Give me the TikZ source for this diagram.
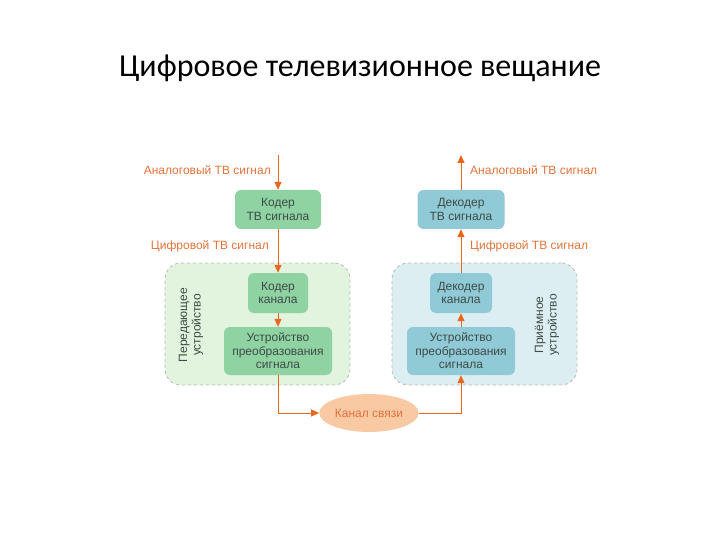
\documentclass[tikz,border=0pt]{standalone}
\usepackage{fontspec}
\setmainfont{Liberation Sans}
\newfontfamily\titlefont{Carlito}
\usetikzlibrary{arrows.meta,positioning,shapes.geometric}
\definecolor{sigorange}{HTML}{E8671C}
\definecolor{labelorange}{HTML}{E2733A}
\definecolor{greenbox}{HTML}{8FD3A2}
\definecolor{greenbg}{HTML}{E2F3DE}
\definecolor{bluebox}{HTML}{90CAD6}
\definecolor{bluebg}{HTML}{DDEEF3}
\definecolor{chanfill}{HTML}{F9C9A4}
\definecolor{boxtext}{HTML}{3E4B46}

\begin{document}
\begin{tikzpicture}[
  x=1pt,y=-1pt,
  block/.style={rounded corners=6pt,align=center,text=boxtext,inner sep=2pt,
    font=\fontsize{12}{13.5}\selectfont},
  greenblock/.style={block,fill=greenbox},
  blueblock/.style={block,fill=bluebox},
  device/.style={draw=gray!55,dashed,rounded corners=16pt,line width=0.8pt,
    minimum width=185pt,minimum height=122pt},
  devlabel/.style={rotate=90,align=center,text=boxtext,font=\fontsize{12}{13.5}\selectfont},
  link/.style={draw=sigorange,line width=1pt,-{Triangle[length=8pt,width=7pt]}},
  siglabel/.style={text=labelorange,font=\fontsize{12}{14}\selectfont,inner sep=0pt}
]
  \useasboundingbox (0,0) rectangle (720,540);
  \node[font=\titlefont\fontsize{32}{36}\selectfont] (title) at (360,68) {Цифровое телевизионное вещание};

  % devices
  \node[device,fill=greenbg] (tx) at (257.5,324) {};
  \node[device,fill=bluebg] (rx) at (484.5,324) {};
  \node[devlabel] (txlabel) at (191,325) {Передающее\\устройство};
  \node[devlabel] (rxlabel) at (547,325) {Приёмное\\устройство};

  % transmitter
  \node[greenblock,minimum width=86pt,minimum height=39pt] (coderTV) at (278,209.5) {Кодер\\ТВ сигнала};
  \node[greenblock,minimum width=60pt,minimum height=40pt] (coderCh) at (278,293) {Кодер\\канала};
  \node[greenblock,minimum width=108pt,minimum height=48pt] (convL) at (278,351) {Устройство\\преобразования\\сигнала};

  % receiver
  \node[blueblock,minimum width=87pt,minimum height=39pt] (decTV) at (461,209.5) {Декодер\\ТВ сигнала};
  \node[blueblock,minimum width=62pt,minimum height=40pt] (decCh) at (461,293) {Декодер\\канала};
  \node[blueblock,minimum width=108pt,minimum height=48pt] (convR) at (461,351) {Устройство\\преобразования\\сигнала};

  % channel
  \node[ellipse,fill=chanfill,text=labelorange,minimum width=95pt,minimum height=38pt,inner sep=1pt,
    font=\fontsize{12}{14}\selectfont] (channel) at (369,413) {Канал связи};

  % signal labels
  \node[siglabel,anchor=east] (ainlabel) at (271,170) {Аналоговый ТВ сигнал};
  \node[siglabel,anchor=east] (dinlabel) at (269,246) {Цифровой ТВ сигнал};
  \node[siglabel,anchor=west] (doutlabel) at (470,246) {Цифровой ТВ сигнал};
  \node[siglabel,anchor=west] (aoutlabel) at (470,170) {Аналоговый ТВ сигнал};

  \coordinate (ain) at (278,155);
  \coordinate (aout) at (461,155);

  % connectors
  \draw[link] (ain) -- (coderTV);
  \draw[link] (coderTV) -- (coderCh);
  \draw[link] (coderCh) -- (convL);
  \draw[link] (convL.south) |- (channel.west);
  \draw[link] (channel.east) -| (convR.south);
  \draw[link] (convR) -- (decCh);
  \draw[link] (decCh) -- (decTV);
  \draw[link] (decTV) -- (aout);
\end{tikzpicture}
\end{document}
